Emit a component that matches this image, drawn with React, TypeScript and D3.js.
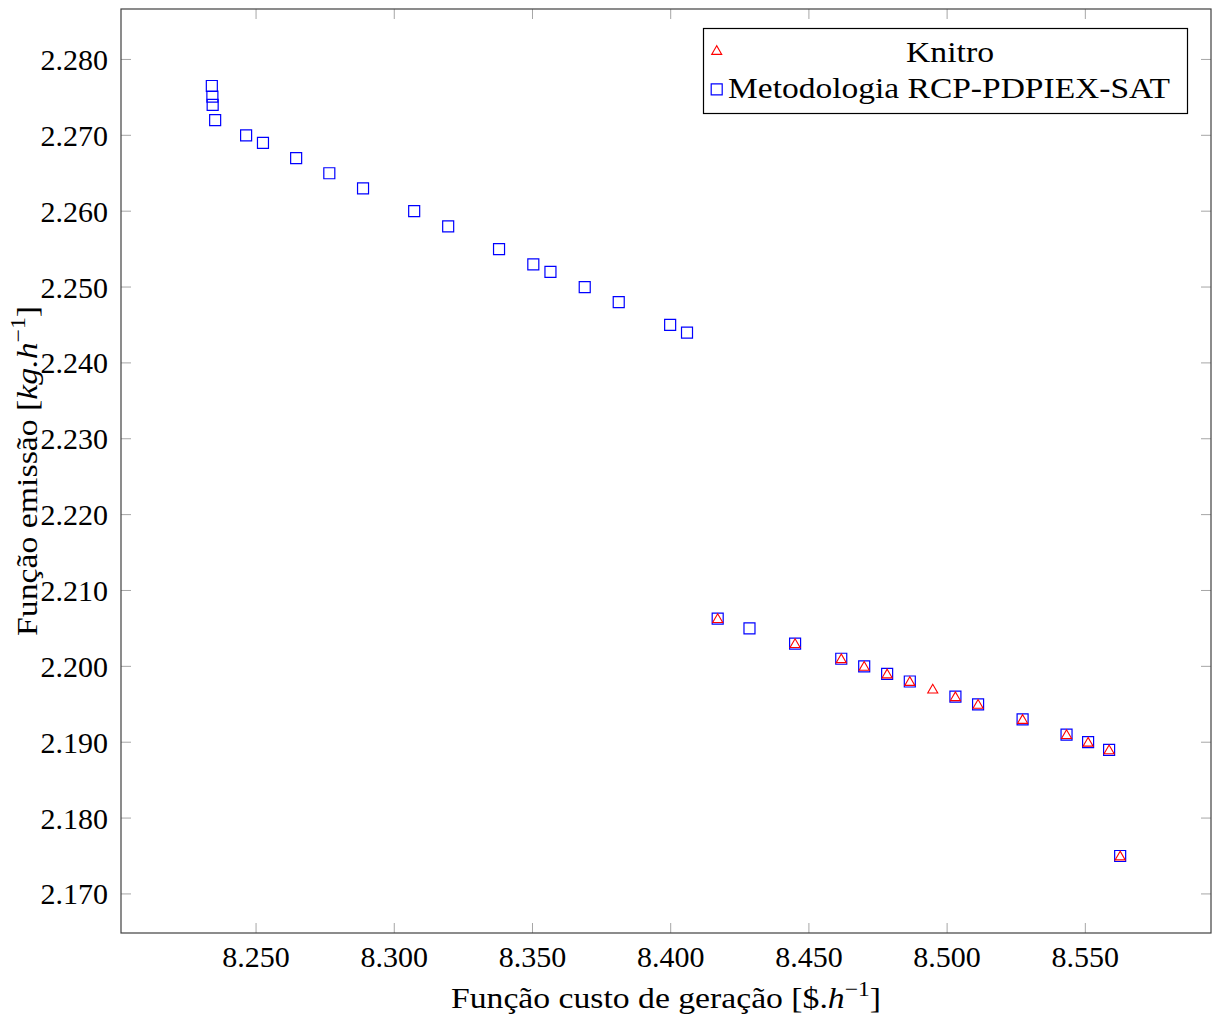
import React from "react";
import * as d3 from "d3";

const knitroX = [8.4170, 8.4450, 8.4617, 8.4700, 8.4783, 8.4865, 8.4948, 8.5030, 8.5112, 8.5273, 8.5432, 8.5510, 8.5586, 8.5626];
const knitroY = [2.2063, 2.2030, 2.2010, 2.2000, 2.1990, 2.1980, 2.1970, 2.1960, 2.1950, 2.1930, 2.1910, 2.1900, 2.1890, 2.1750];

const rcpX = [8.2340, 8.2342, 8.2343, 8.2352, 8.2464, 8.2525, 8.2645, 8.2765, 8.2887, 8.3072, 8.3195, 8.3379, 8.3503, 8.3565, 8.3689, 8.3812, 8.3998, 8.4059, 8.4170, 8.4285, 8.4450, 8.4617, 8.4700, 8.4783, 8.4865, 8.5030, 8.5112, 8.5273, 8.5432, 8.5510, 8.5586, 8.5626];
const rcpY = [2.2765, 2.2751, 2.2740, 2.2720, 2.2700, 2.2690, 2.2670, 2.2650, 2.2630, 2.2600, 2.2580, 2.2550, 2.2530, 2.2520, 2.2500, 2.2480, 2.2450, 2.2440, 2.2063, 2.2050, 2.2030, 2.2010, 2.2000, 2.1990, 2.1980, 2.1960, 2.1950, 2.1930, 2.1910, 2.1900, 2.1890, 2.1750];

const xTicks = [8.25, 8.3, 8.35, 8.4, 8.45, 8.5, 8.55];
const yTicks = [2.17, 2.18, 2.19, 2.2, 2.21, 2.22, 2.23, 2.24, 2.25, 2.26, 2.27, 2.28];

const legendLabels = ["Knitro", "Metodologia RCP-PDPIEX-SAT"];

const W = 1214, H = 1019;
const L = 121, R = 1211, T = 9, B = 933;
const FONT = "Liberation Serif, DejaVu Serif, Times New Roman, serif";

function enlarge(vals: number[], f: number): [number, number] {
  const [a, b] = d3.extent(vals) as [number, number];
  const d = (b - a) * f;
  return [a - d, b + d];
}

export default function App() {
  const allX = [...knitroX, ...rcpX];
  const allY = [...knitroY, ...rcpY];
  const x = d3.scaleLinear().domain(enlarge(allX, 0.1)).range([L, R]);
  const y = d3.scaleLinear().domain(enlarge(allY, 0.1)).range([B, T]);
  const fx = d3.format(".3f");
  const tickColor = "#a6a6a6";
  const frameColor = "#404040";
  const ts = { fontFamily: FONT, fontSize: "30px", fill: "#000" } as React.CSSProperties;

  const tri = (cx: number, cy: number, r = 5.8) =>
    `M${cx},${cy - r}L${cx - 0.866 * r},${cy + 0.5 * r}L${cx + 0.866 * r},${cy + 0.5 * r}Z`;
  const sq = (cx: number, cy: number, h = 5.5) =>
    `M${cx - h},${cy - h}h${2 * h}v${2 * h}h${-2 * h}Z`;

  return (
    <svg width={W} height={H} style={{ position: "absolute", left: 0, top: 0, background: "#fff", fontFamily: FONT }}>
      <rect x={0} y={0} width={W} height={H} fill="#fff" />
      {xTicks.map((t) => (
        <g key={"xt" + t}>
          <line x1={x(t)} x2={x(t)} y1={B} y2={B - 10} stroke={tickColor} strokeWidth={1} />
          <line x1={x(t)} x2={x(t)} y1={T} y2={T + 10} stroke={tickColor} strokeWidth={1} />
          <text x={x(t)} y={967} style={ts} textAnchor="middle">{fx(t)}</text>
        </g>
      ))}
      {yTicks.map((t) => (
        <g key={"yt" + t}>
          <line x1={L} x2={L + 10} y1={y(t)} y2={y(t)} stroke={tickColor} strokeWidth={1} />
          <line x1={R} x2={R - 10} y1={y(t)} y2={y(t)} stroke={tickColor} strokeWidth={1} />
          <text x={108} y={y(t) + 10.5} style={ts} textAnchor="end">{fx(t)}</text>
        </g>
      ))}
      <rect x={L} y={T} width={R - L} height={B - T} fill="none" stroke={frameColor} strokeWidth={1.2} />

      {rcpX.map((v, i) => (
        <path key={"s" + i} d={sq(x(v), y(rcpY[i]))} fill="none" stroke="#0000ff" strokeWidth={1.2} />
      ))}
      {knitroX.map((v, i) => (
        <path key={"t" + i} d={tri(x(v), y(knitroY[i]) + 1)} fill="none" stroke="#ff0000" strokeWidth={1.1} />
      ))}

      <rect x={703.5} y={28.5} width={484} height={85} fill="#fff" stroke="#000" strokeWidth={1.2} />
      <path d={tri(716.7, 51.5)} fill="none" stroke="#ff0000" strokeWidth={1.1} />
      <path d={sq(716.7, 89.3)} fill="none" stroke="#0000ff" strokeWidth={1.2} />
      <text x={950} y={62} style={ts} textAnchor="middle" textLength={88} lengthAdjust="spacingAndGlyphs">{legendLabels[0]}</text>
      <text x={949} y={98} style={ts} textAnchor="middle" textLength={442} lengthAdjust="spacingAndGlyphs">{legendLabels[1]}</text>

      <text x={(L + R) / 2} y={1008} style={ts} textAnchor="middle" textLength={430} lengthAdjust="spacingAndGlyphs">
        Função custo de geração [$.<tspan fontStyle="italic">h</tspan>
        <tspan fontSize={21} dy={-12}>−1</tspan>
        <tspan dy={12}>]</tspan>
      </text>
      <text transform={`translate(37,${(T + B) / 2}) rotate(-90)`} style={ts} textAnchor="middle" textLength={330} lengthAdjust="spacingAndGlyphs">
        Função emissão [<tspan fontStyle="italic">kg.h</tspan>
        <tspan fontSize={21} dy={-12}>−1</tspan>
        <tspan dy={12}>]</tspan>
      </text>
    </svg>
  );
}
